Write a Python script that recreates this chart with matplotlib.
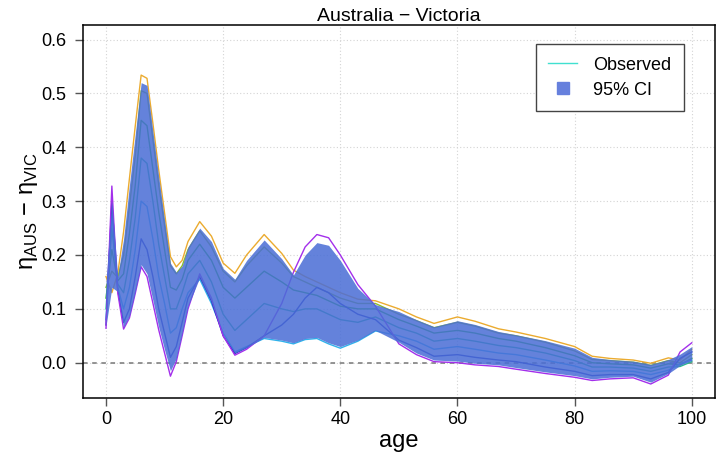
import numpy as np
import matplotlib.pyplot as plt
from matplotlib.colors import hsv_to_rgb
from matplotlib.lines import Line2D

plt.rcParams['font.family'] = ['Liberation Sans', 'DejaVu Sans']
plt.rcParams['mathtext.fontset'] = 'custom'
plt.rcParams['mathtext.rm'] = 'Liberation Sans'

# ── Data: eta(AUS) - eta(VIC) by age, one curve per period ───────────────────
ages = [0, 1, 2, 3, 4, 5, 6, 7, 8, 9, 10, 11, 12, 13, 14, 16, 18, 20, 22, 24,
        27, 30, 32, 34, 36, 38, 40, 43, 46, 50, 53, 56, 60, 63, 67, 70, 75,
        80, 83, 86, 90, 93, 96, 98, 100]

curve_1 = [.160, .130, .165, .243, .342, .440, .534, .528, .445, .358, .278,
           .197, .178, .190, .225, .262, .235, .185, .166, .200, .238, .203,
           .172, .160, .150, .140, .130, .118, .115, .100, .085, .073, .085,
           .077, .063, .057, .045, .030, .012, .008, .005, -.001, .009, .005,
           .025]
curve_2 = [.140, .170, .158, .200, .290, .385, .505, .500, .415, .330, .255,
           .180, .165, .180, .210, .245, .215, .170, .150, .180, .215, .185,
           .160, .150, .140, .130, .120, .110, .110, .090, .078, .065, .075,
           .068, .055, .050, .038, .022, .006, .004, .001, -.005, .004, .000,
           .015]
curve_3 = [.120, .210, .152, .165, .240, .330, .450, .440, .360, .280, .210,
           .140, .135, .155, .190, .220, .190, .140, .120, .140, .170, .150,
           .135, .130, .125, .115, .105, .100, .100, .080, .068, .055, .060,
           .055, .045, .040, .028, .013, .000, -.002, -.004, -.010, -.002,
           -.004, .008]
curve_4 = [.100, .250, .146, .130, .190, .270, .380, .370, .300, .220, .160,
           .100, .100, .130, .165, .190, .150, .090, .060, .080, .110, .100,
           .095, .100, .100, .090, .080, .075, .085, .065, .055, .040, .045,
           .040, .032, .028, .018, .004, -.008, -.008, -.010, -.016, -.008,
           -.007, .002]
curve_5 = [.080, .280, .140, .100, .140, .210, .300, .290, .230, .160, .110,
           .055, .065, .100, .130, .155, .110, .055, .020, .030, .045, .040,
           .035, .043, .045, .035, .027, .040, .059, .050, .040, .025, .030,
           .025, .018, .015, .005, -.006, -.016, -.015, -.016, -.022, -.014,
           -.002, .005]
curve_6 = [.070, .300, .135, .075, .100, .160, .230, .210, .160, .100, .055,
           .010, .030, .075, .120, .160, .115, .050, .017, .028, .050, .070,
           .090, .120, .140, .130, .110, .090, .080, .042, .028, .012, .015,
           .010, .005, .002, -.008, -.016, -.024, -.022, -.022, -.030, -.018,
           .008, .020]
curve_7 = [.064, .328, .130, .0625, .083, .129, .178, .160, .111, .061, .018,
           -.025, .002, .050, .100, .165, .120, .050, .014, .025, .050, .110,
           .168, .215, .238, .232, .200, .145, .105, .035, .015, .002, .000,
           -.004, -.007, -.012, -.020, -.027, -.033, -.030, -.028, -.0395,
           -.023, .020, .037]
curves = [curve_1, curve_2, curve_3, curve_4, curve_5, curve_6, curve_7]

ci_upper = [.150, .300, .160, .230, .330, .425, .520, .515, .430, .345, .265,
            .185, .168, .180, .215, .250, .225, .175, .155, .190, .228, .193,
            .163, .200, .223, .218, .190, .138, .108, .095, .080, .067, .078,
            .071, .058, .052, .041, .027, .010, .006, .003, -.003, .006, .016,
            .030]
ci_lower = [.068, .140, .132, .066, .087, .133, .182, .165, .116, .066, .024,
            -.015, .008, .055, .105, .158, .113, .053, .018, .028, .047, .042,
            .037, .045, .047, .037, .030, .042, .060, .038, .018, .005, .003,
            -.001, -.004, -.009, -.017, -.024, -.030, -.027, -.025, -.036,
            -.020, -.005, .004]

# ── Plot ──────────────────────────────────────────────────────────────────────
fig = plt.figure(figsize=(7.18, 4.53), dpi=100)
ax = fig.add_axes([0.115, 0.1214, 0.8811, 0.8234])

ax.grid(True, color='#d4d4d4', linestyle=(0, (1, 2)), linewidth=0.8)
ax.set_axisbelow(True)
ax.axhline(0, color='#777777', linestyle=(0, (3, 3)), linewidth=1.1, zorder=1)

# rainbow: orange for the earliest curve through to purple for the latest
hues = np.linspace(0.11, 0.77, len(curves))
for i, (h, c) in enumerate(zip(hues, curves)):
    val = 0.92 if i in (0, 4, len(curves) - 1) else 0.75
    ax.plot(ages, c, color=hsv_to_rgb((h, 0.8, val)), linewidth=1.0, zorder=2)

band_color = '#4a6ed6'
ax.fill_between(ages, ci_lower, ci_upper, color=band_color, alpha=0.86,
                linewidth=0, zorder=3)

ax.set_xlim(-4, 104)
ax.set_ylim(-0.0655, 0.627)
ax.set_xticks([0, 20, 40, 60, 80, 100])
ax.set_yticks([0.0, 0.1, 0.2, 0.3, 0.4, 0.5, 0.6])
ax.set_yticklabels([f'{v:.1f}' for v in ax.get_yticks()])
ax.tick_params(axis='both', labelsize=13, length=6, width=1, color='#555555')
ax.tick_params(axis='x', pad=3.5)
ax.tick_params(axis='y', pad=5.5)
for s in ax.spines.values():
    s.set_linewidth(1.1)

ax.set_xlabel('age', fontsize=17, labelpad=1)
ax.set_ylabel(r'η$_{\mathrm{AUS}}$ − η$_{\mathrm{VIC}}$', fontsize=17, labelpad=1)
ax.set_title('Australia − Victoria', fontsize=14, pad=2)

handles = [
    Line2D([], [], color='#40e0d0', linewidth=1),
    Line2D([], [], color='#6680dd', marker='s', markersize=9, linestyle='none'),
]
ax.legend(handles, ['Observed', '95% CI'], loc='upper right',
          bbox_to_anchor=(0.951, 0.949), borderaxespad=0, fontsize=13,
          fancybox=False, framealpha=1, edgecolor='#444444',
          handlelength=1.6, handletextpad=0.9, labelspacing=0.45,
          borderpad=0.7)

fig.savefig('out.png', dpi=100)
plt.close(fig)
